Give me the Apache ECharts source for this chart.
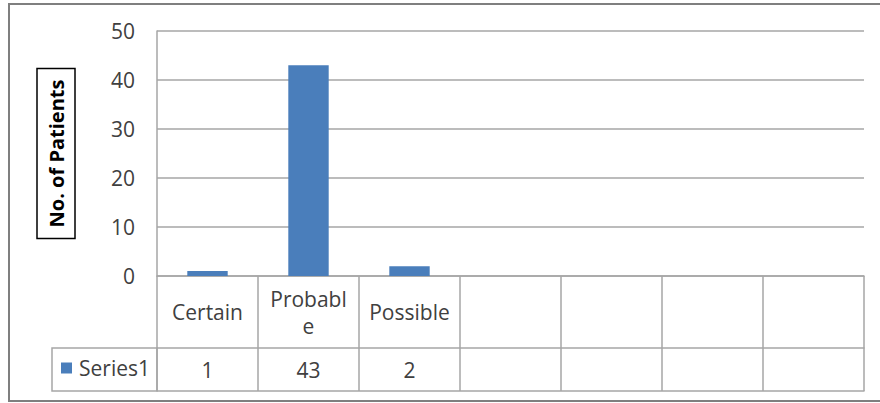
<!DOCTYPE html>
<html>
<head>
<meta charset="utf-8">
<script src="https://cdn.jsdelivr.net/npm/echarts@6/dist/echarts.min.js"></script>
<style>
  html, body { margin: 0; padding: 0; background: #fff; }
  #chart { width: 880px; height: 403px; }
</style>
</head>
<body>
<div id="chart"></div>
<script>
// Causality assessment counts
const categories = ['Certain', 'Probable', 'Possible', '', '', '', ''];
const categoryLabels = ['Certain', 'Probabl\ne', 'Possible', '', '', '', ''];
const series1 = [1, 43, 2, null, null, null, null];
const seriesName = 'Series1';
const yTicks = { min: 0, max: 50, interval: 10 };
const yTitle = 'No. of Patients';

const FONT = 'Open Sans';
const TXT = '#404040';
const LINE = '#a6a6a6';
const FS = 21;

// Plot area geometry (px)
const gLeft = 157, gRight = 16, gTop = 31, gBottom = 127;
const axisY = 403 - gBottom;          // baseline of the plot
const row1 = 72;                      // height of the category row
const row2 = 43;                      // height of the values row
const legendCellLeft = 52;

const chart = echarts.init(document.getElementById('chart'), null, { renderer: 'svg' });

chart.setOption({
  animation: false,
  backgroundColor: '#fff',
  textStyle: { fontFamily: FONT },
  grid: { left: gLeft, right: gRight, top: gTop, bottom: gBottom, containLabel: false },
  legend: {
    data: [seriesName],
    left: 61,
    top: axisY + row1 + row2 / 2 - 12,
    itemWidth: 11,
    itemHeight: 11,
    itemGap: 0,
    padding: 0,
    icon: 'rect',
    textStyle: { fontFamily: FONT, fontSize: FS, color: TXT, padding: [0, 0, 0, 2] }
  },
  xAxis: [
    {
      // category row of the data table
      type: 'category',
      data: categories,
      position: 'bottom',
      axisLine: { show: true, lineStyle: { color: LINE, width: 1.5 } },
      axisTick: { show: true, length: row1 + row2, lineStyle: { color: LINE, width: 1.5 } },
      axisLabel: {
        interval: 0,
        margin: row1 / 2,
        verticalAlign: 'middle',
        fontFamily: FONT,
        fontSize: FS,
        lineHeight: 27,
        color: TXT,
        formatter: (v, i) => categoryLabels[i]
      },
      splitLine: { show: false }
    },
    {
      // values row of the data table
      type: 'category',
      data: categories,
      position: 'bottom',
      offset: row1,
      axisLine: { show: true, lineStyle: { color: LINE, width: 1.5 } },
      axisTick: { show: false },
      axisLabel: {
        interval: 0,
        margin: row2 / 2,
        verticalAlign: 'middle',
        fontFamily: FONT,
        fontSize: FS,
        color: TXT,
        formatter: (v, i) => (series1[i] == null ? '' : String(series1[i]))
      }
    },
    {
      // bottom edge of the data table
      type: 'category',
      data: categories,
      position: 'bottom',
      offset: row1 + row2,
      axisLine: { show: true, lineStyle: { color: LINE, width: 1.5 } },
      axisTick: { show: false },
      axisLabel: { show: false }
    }
  ],
  yAxis: {
    type: 'value',
    min: yTicks.min,
    max: yTicks.max,
    interval: yTicks.interval,
    name: yTitle,
    nameLocation: 'middle',
    nameRotate: 90,
    nameGap: 82,
    nameTextStyle: {
      fontFamily: FONT,
      fontSize: 20,
      fontWeight: 'bold',
      lineHeight: 24,
      color: '#000',
      borderColor: '#000',
      borderWidth: 1.5,
      padding: [7, 11, 7, 11]
    },
    axisLine: { show: true, lineStyle: { color: LINE, width: 1.5 } },
    axisTick: { show: false },
    axisLabel: { margin: 22, fontFamily: FONT, fontSize: FS, color: TXT },
    splitLine: { show: true, lineStyle: { color: LINE, width: 1.5 } }
  },
  series: [
    {
      name: seriesName,
      type: 'bar',
      data: series1,
      barWidth: '40%',
      itemStyle: { color: '#4a7ebb' }
    }
  ],
  graphic: [
    // legend-key cell to the left of the values row
    {
      type: 'rect',
      shape: { x: legendCellLeft, y: axisY + row1, width: gLeft - legendCellLeft, height: row2 },
      style: { fill: 'none', stroke: LINE, lineWidth: 1.5 },
      silent: true
    },
    // chart frame
    {
      type: 'rect',
      shape: { x: 9, y: 4, width: 880, height: 397 },
      style: { fill: 'none', stroke: '#7f7f7f', lineWidth: 2 },
      silent: true
    }
  ]
});
</script>
</body>
</html>
